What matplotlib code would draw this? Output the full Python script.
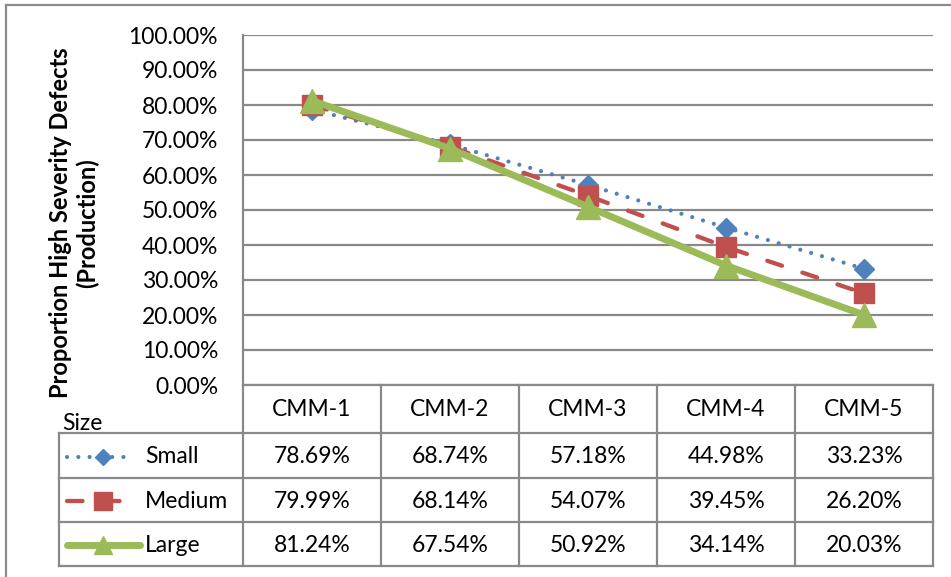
import matplotlib
matplotlib.use("Agg")
import matplotlib.pyplot as plt
from matplotlib import transforms
from matplotlib.lines import Line2D

# ---- data ----
categories = ["CMM-1", "CMM-2", "CMM-3", "CMM-4", "CMM-5"]
small = [78.69, 68.74, 57.18, 44.98, 33.23]
medium = [79.99, 68.14, 54.07, 39.45, 26.20]
large = [81.24, 67.54, 50.92, 34.14, 20.03]
series_names = ["Small", "Medium", "Large"]
y_ticks = [0, 10, 20, 30, 40, 50, 60, 70, 80, 90, 100]
y_label = "Proportion High Severity Defects\n(Production)"
table_header = "Size"

# ---- styling ----
W, H = 951, 577
plt.rcParams['font.family'] = ['Lato', 'DejaVu Sans']
BLUE, RED, GREEN = "#4F81BD", "#C0504D", "#9BBB59"
GRID = "#898989"
FS = 16.5

styles = [
    dict(color=BLUE, lw=3.0, dashes=(0.01, 2.7), dash_capstyle="round",
         marker="D", ms=10.2),
    dict(color=RED, lw=3.1, dashes=(3.6, 5.0), dash_capstyle="round",
         marker="s", ms=14.0),
    dict(color=GREEN, lw=5.0, solid_capstyle="round",
         marker="^", ms=17.5),
]

fig = plt.figure(figsize=(W / 100, H / 100), dpi=100)

# pixel coordinates measured from the top-left corner
pix = transforms.Affine2D().scale(1 / W, -1 / H).translate(0, 1) + fig.transFigure

PL, PR, PT, PB = 243, 933, 35, 385
ax = fig.add_axes([PL / W, 1 - PB / H, (PR - PL) / W, (PB - PT) / H])
ax.set_xlim(-0.5, len(categories) - 0.5)
ax.set_ylim(0, 100)
ax.set_yticks(y_ticks)
ax.set_yticklabels([f"{v:.2f}%" for v in y_ticks], fontsize=FS)
ax.tick_params(axis="y", length=0, pad=18)
ax.set_xticks([])
ax.grid(axis="y", color=GRID, lw=1.6)
ax.set_axisbelow(True)
for s in ("top", "right"):
    ax.spines[s].set_visible(False)
for s in ("left", "bottom"):
    ax.spines[s].set_color(GRID)
    ax.spines[s].set_linewidth(1.6)

xs = list(range(len(categories)))
for vals, st in zip([small, medium, large], styles):
    ax.plot(xs, vals, clip_on=False, zorder=3, **st)

# ---- data table below the plot ----
bt = transforms.blended_transform_factory(ax.transData, pix)
TL = 59
row_edges = [PB, 433, 478, 522, 566]

def px_x(xd):
    # data x -> pixel x
    return ax.transData.transform((xd, 0))[0]

lk = dict(color=GRID, lw=1.6, clip_on=False, zorder=1)
for i in range(len(categories) + 1):
    fig.add_artist(Line2D([i - 0.5, i - 0.5], [PB, row_edges[-1]],
                          transform=bt, **lk))
right = px_x(len(categories) - 0.5)
for yy in row_edges[1:]:
    fig.add_artist(Line2D([TL, right], [yy, yy], transform=pix, **lk))
fig.add_artist(Line2D([TL, TL], [row_edges[1], row_edges[-1]], transform=pix, **lk))

head_y = (row_edges[0] + row_edges[1]) / 2 + 1
for i, c in enumerate(categories):
    fig.text(i, head_y, c, transform=bt, ha="center", va="center", fontsize=FS)
fig.text(62, 423, table_header, transform=pix, ha="left", va="center", fontsize=FS)

key_styles = [
    dict(marker="D", ms=8.0, mx=103),
    dict(marker="s", ms=12.5, mx=103),
    dict(marker="^", ms=13.5, mx=103),
]
key_spans = [(67, 131), (67, 130), (67, 140)]
for r, (name, vals, st, ks, span) in enumerate(
        zip(series_names, [small, medium, large], styles, key_styles, key_spans)):
    cy = (row_edges[r + 1] + row_edges[r + 2]) / 2 + 1
    line_kw = {k: v for k, v in st.items() if k not in ("marker", "ms")}
    fig.add_artist(Line2D([span[0], span[1]], [cy, cy], transform=pix, **line_kw))
    fig.add_artist(Line2D([ks["mx"]], [cy], transform=pix, color=st["color"],
                          marker=ks["marker"], ms=ks["ms"], lw=0))
    fig.text(145, cy, name, transform=pix, ha="left", va="center", fontsize=FS)
    for i, v in enumerate(vals):
        fig.text(i, cy, f"{v:.2f}%", transform=bt, ha="center", va="center",
                 fontsize=FS)

# ---- y axis title ----
fig.text(74, 223, y_label, transform=pix, rotation=90, ha="center", va="center",
         fontsize=17, fontweight="bold", multialignment="center",
         linespacing=1.15)

# ---- chart frame ----
fk = dict(color="#8c8c8c", lw=1.6)
fig.add_artist(Line2D([6, W + 5], [5, 5], transform=pix, **fk))
fig.add_artist(Line2D([6, 6], [5, H + 5], transform=pix, **fk))

fig.savefig("out.png", dpi=100)
